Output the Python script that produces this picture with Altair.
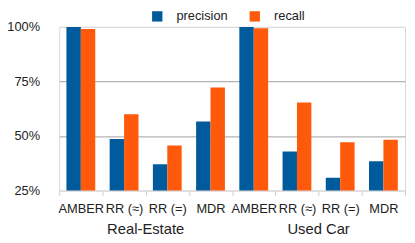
import altair as alt
import pandas as pd

groups = ["Real-Estate", "Used Car"]
methods = ["AMBER", "RR (≈)", "RR (=)", "MDR"]
series = ["precision", "recall"]
precision = [1.00, 0.486, 0.370, 0.567, 1.00, 0.429, 0.309, 0.384]
recall = [0.991, 0.600, 0.457, 0.723, 0.994, 0.654, 0.471, 0.483]
y_ticks = [0.25, 0.5, 0.75, 1.0]
colors = ["#005b9d", "#ff5a0c"]

rows = []
keys = []
i = 0
for g in groups:
    for m in methods:
        k = f"{g}|{m}"
        keys.append(k)
        rows.append({"key": k, "group": g, "method": m, "series": "precision", "value": precision[i]})
        rows.append({"key": k, "group": g, "method": m, "series": "recall", "value": recall[i]})
        i += 1
df = pd.DataFrame(rows)
label_df = pd.DataFrame({"key": [f"{g}|{methods[1]}" for g in groups], "group": groups})

bars = alt.Chart(df).mark_bar(clip=True).encode(
    x=alt.X(
        "key:N", sort=keys,
        scale=alt.Scale(paddingInner=0, paddingOuter=0),
        axis=alt.Axis(
            title=None, labelExpr="split(datum.label, '|')[1]", labelAngle=0,
            labelFontSize=13, labelOverlap=False, tickBand="extent", tickSize=5,
            tickColor="#d0d0d0", domain=False, labelPadding=7, grid=False,
            labelColor="#222222",
        ),
    ),
    xOffset=alt.XOffset("series:N", sort=series, scale=alt.Scale(paddingInner=0, paddingOuter=0.5)),
    y=alt.Y(
        "value:Q",
        scale=alt.Scale(domain=[0.25, 1.0], zero=False, nice=False),
        axis=alt.Axis(
            values=y_ticks, format=".0%", title=None, ticks=False, domain=False,
            labelPadding=20, labelFontSize=13, labelColor="#222222",
            gridColor={"condition": {"test": "datum.value > 0.3 && datum.value < 0.9", "value": "#b4b4b4"}, "value": "#dcdcdc"},
            gridWidth=1.3,
        ),
    ),
    color=alt.Color(
        "series:N", sort=series,
        scale=alt.Scale(domain=series, range=colors),
        legend=alt.Legend(
            title=None, orient="none", legendX=93, legendY=-17.5, direction="horizontal",
            symbolType="square", symbolSize=110, symbolStrokeWidth=0, labelFontSize=13,
            columnPadding=20, labelOffset=13, labelColor="#222222",
        ),
    ),
)

text = alt.Chart(label_df).mark_text(fontSize=15, baseline="alphabetic", align="center", color="#222222").encode(
    x=alt.X("key:N", sort=keys, bandPosition=1),
    y=alt.value(210),
    text="group:N",
)

chart = alt.layer(bars, text).properties(
    width=351, height=166,
    autosize=alt.AutoSizeParams(type="none"),
    padding={"left": 52, "top": 17.5, "right": 2, "bottom": 51},
).configure(font="Liberation Sans").configure_view(stroke="#d8d8d8")

chart.save("out.html", embed_options={"renderer": "svg", "actions": False})
